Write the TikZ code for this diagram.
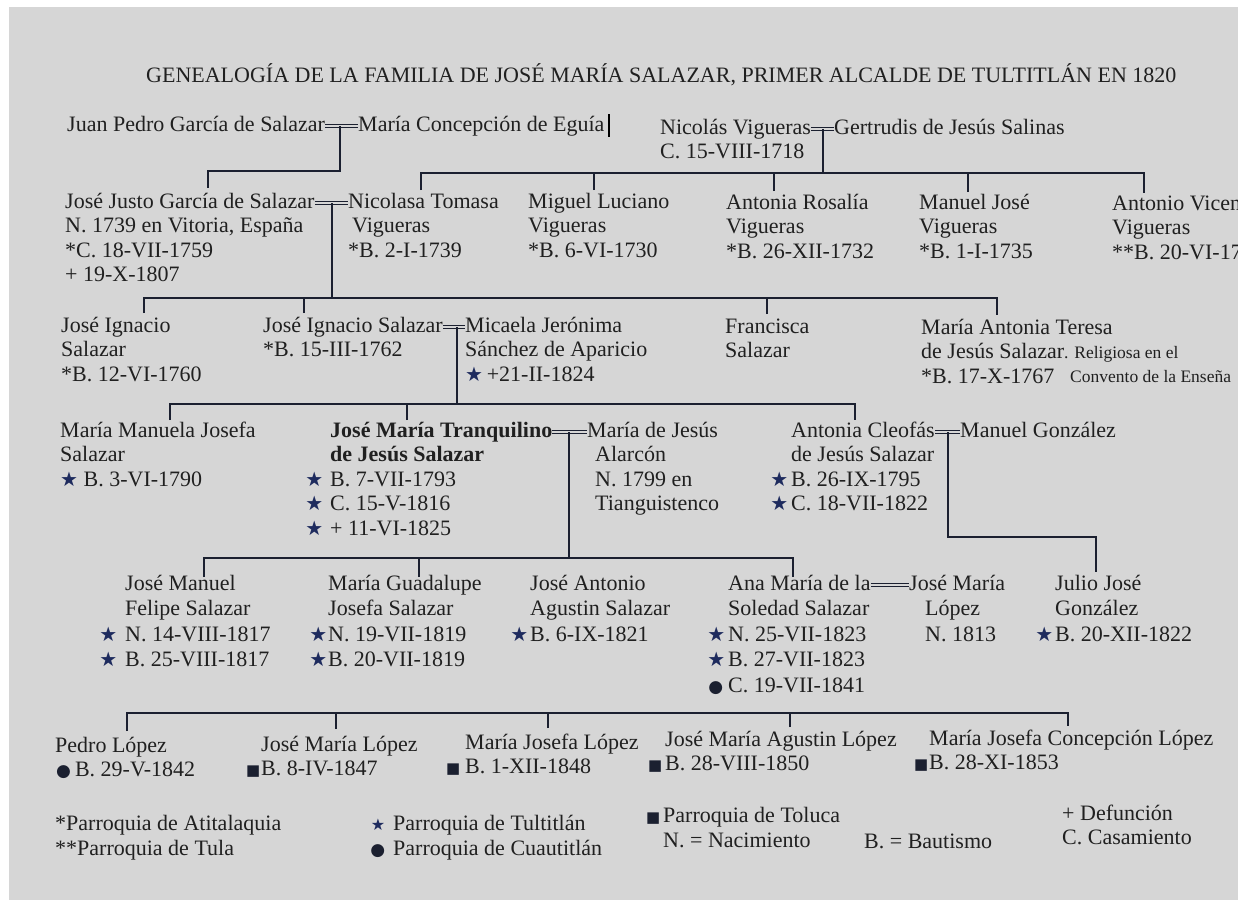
\documentclass[tikz,border=0pt]{standalone}
\usepackage{fontspec}
\usepackage{graphicx}
\setmainfont{Liberation Serif}
\newfontfamily\symf{DejaVu Sans}
\definecolor{bgc}{HTML}{D6D6D6}
\definecolor{textc}{HTML}{202020}
\definecolor{linec}{HTML}{1B2030}
\definecolor{starc}{HTML}{1E2B5E}
\newcommand\mlines[1]{\vtop{\halign{##\hfil\cr#1\crcr}}}
\newcommand\stR{{\fontsize{20}{20}\selectfont\symf\color{starc}★}}
\newcommand\stS{{\fontsize{16}{16}\selectfont\symf\color{starc}★}}
\newcommand\bul{{\fontsize{17}{17}\selectfont\symf\color{linec}●}}
\newcommand\sqr{{\fontsize{15}{15}\selectfont\symf\color{linec}■}}
\newcommand\hst[1]{\llap{\stR\hspace{#1}}}
\tikzset{
  txt/.style={anchor=base west, inner sep=0pt, text=textc, font=\fontsize{22}{24.5}\selectfont},
  txtw/.style={anchor=base west, inner sep=0pt, text=textc, font=\fontsize{22}{25.5}\selectfont},
  smalltxt/.style={anchor=base west, inner sep=0pt, text=textc, font=\fontsize{17.5}{20}\selectfont},
  conn/.style={draw=linec, line width=2.8pt},
  wed/.style={draw=linec, line width=1.2pt, double=bgc, double distance=2.4pt},
}
\begin{document}
\begin{tikzpicture}[x=1pt,y=-1pt]
\fill[bgc] (0,0) rectangle (1238,900);
\fill[white] (0,0) rectangle (1238,7);
\fill[white] (0,0) rectangle (9,900);
\useasboundingbox (0,0) rectangle (1238,900);

% title
\node[txt] (title) at (146,82) {GENEALOGÍA DE LA FAMILIA DE JOSÉ MARÍA SALAZAR, PRIMER ALCALDE DE TULTITLÁN EN 1820};

% row 1
\node[txt] (jp) at (67,131) {Juan Pedro García de Salazar};
\node[txt] (mc) at (358,131) {María Concepción de Eguía};
\draw[line width=1.6pt, black] (609,114) -- (609,137);
\node[txt] (nv) at (660,134) {\mlines{Nicolás Vigueras\cr C. 15-VIII-1718}};
\node[txt] (gs) at (834,134) {Gertrudis de Jesús Salinas};

% row 2
\node[txt] (jj) at (65,208) {\mlines{José Justo García de Salazar\cr N. 1739 en Vitoria, España\cr *C. 18-VII-1759\cr + 19-X-1807}};
\node[txt] (nt) at (348,208) {\mlines{Nicolasa Tomasa\cr \hspace{4pt}Vigueras\cr *B. 2-I-1739}};
\node[txt] (ml) at (528,208) {\mlines{Miguel Luciano\cr Vigueras\cr *B. 6-VI-1730}};
\node[txt] (ar) at (726,209) {\mlines{Antonia Rosalía\cr Vigueras\cr *B. 26-XII-1732}};
\node[txt] (mj) at (919,209) {\mlines{Manuel José\cr Vigueras\cr *B. 1-I-1735}};
\node[txt] (av) at (1112,210) {\mlines{Antonio Vicen\cr Vigueras\cr **B. 20-VI-17}};

% row 3
\node[txt] (ji1) at (61,332) {\mlines{José Ignacio\cr Salazar\cr *B. 12-VI-1760}};
\node[txt] (ji2) at (263,332) {\mlines{José Ignacio Salazar\cr *B. 15-III-1762}};
\node[txt] (mjs) at (465,332) {\mlines{Micaela Jerónima\cr Sánchez de Aparicio\cr \stR\,+21-II-1824}};
\node[txt] (fs) at (725,333) {\mlines{Francisca\cr Salazar}};
\node[txt] (mat) at (921,334) {\mlines{María Antonia Teresa\cr de Jesús Salazar\cr *B. 17-X-1767}};
\node[smalltxt] (rel) at (1064,358) {. Religiosa en el};
\node[smalltxt] (conv) at (1070,382) {Convento de la Enseña};

% row 4
\node[txt] (mmj) at (60,437) {\mlines{María Manuela Josefa\cr Salazar\cr \stR\ B. 3-VI-1790}};
\node[txt] (jmt) at (330,437) {\mlines{\textbf{José María Tranquilino}\cr \textbf{de Jesús Salazar}\cr \hst{7pt}B. 7-VII-1793\cr \hst{7pt}C. 15-V-1816\cr \hst{7pt}+ 11-VI-1825}};
\node[txt] (mja) at (587,437) {\mlines{María de Jesús\cr \hspace{8pt}Alarcón\cr \hspace{8pt}N. 1799 en\cr \hspace{8pt}Tianguistenco}};
\node[txt] (acs) at (791,437) {\mlines{Antonia Cleofás\cr de Jesús Salazar\cr \hst{3pt}B. 26-IX-1795\cr \hst{3pt}C. 18-VII-1822}};
\node[txt] (mg) at (960,437) {Manuel González};

% row 5
\node[txtw] (jmf) at (125,590) {\mlines{José Manuel\cr Felipe Salazar\cr \hst{8pt}N. 14-VIII-1817\cr \hst{8pt}B. 25-VIII-1817}};
\node[txtw] (mgj) at (328,590) {\mlines{María Guadalupe\cr Josefa Salazar\cr \hst{1pt}N. 19-VII-1819\cr \hst{1pt}B. 20-VII-1819}};
\node[txtw] (jaa) at (530,590) {\mlines{José Antonio\cr Agustin Salazar\cr \hst{2pt}B. 6-IX-1821}};
\node[txtw] (ams) at (728,590) {\mlines{Ana María de la\cr Soledad Salazar\cr \hst{3pt}N. 25-VII-1823\cr \hst{3pt}B. 27-VII-1823\cr \llap{\bul\hspace{5pt}}C. 19-VII-1841}};
\node[txtw] (jml) at (909,590) {\mlines{José María\cr \hspace{16pt}López\cr \hspace{16pt}N. 1813}};
\node[txtw] (jjg) at (1055,590) {\mlines{Julio José\cr González\cr \hst{2pt}B. 20-XII-1822}};

% row 6
\node[txt] (pl) at (55,752) {\mlines{Pedro López\cr \hspace{1pt}\bul\hspace{4pt}B. 29-V-1842}};
\node[txt] (jmlo) at (261,751) {\mlines{José María López\cr \llap{\sqr\hspace{1pt}}B. 8-IV-1847}};
\node[txt] (mjl) at (465,749) {\mlines{María Josefa López\cr \llap{\sqr\hspace{5pt}}B. 1-XII-1848}};
\node[txt] (jmal) at (665,746) {\mlines{José María Agustin López\cr \llap{\sqr\hspace{3pt}}B. 28-VIII-1850}};
\node[txt] (mjcl) at (929,745) {\mlines{María Josefa Concepción López\cr \llap{\sqr\hspace{1pt}}B. 28-XI-1853}};

% legend
\node[txtw] (lg1) at (55,830) {\mlines{*Parroquia de Atitalaquia\cr **Parroquia de Tula}};
\node[txtw] (lg2) at (393,830) {\mlines{\llap{\stS\hspace{8pt}}Parroquia de Tultitlán\cr \llap{\bul\hspace{8pt}}Parroquia de Cuautitlán}};
\node[txtw] (lg3) at (663,822) {\mlines{\llap{\sqr\hspace{3pt}}Parroquia de Toluca\cr N. = Nacimiento}};
\node[txt] (lg4) at (864,848) {B. = Bautismo};
\node[txt] (lg5) at (1062,820) {\mlines{+ Defunción\cr C. Casamiento}};

% marriages
\draw[wed] ([yshift=5pt]jp.base east) -- ([yshift=5pt]mc.base west);
\draw[wed] ([yshift=5pt]nv.base east) -- ([yshift=5pt]gs.base west);
\draw[wed] ([yshift=5pt]jj.base east) -- ([yshift=5pt]nt.base west);
\draw[wed] ([yshift=5pt]ji2.base east) -- ([yshift=5pt]mjs.base west);
\draw[wed] ([yshift=5pt]jmt.base east) -- ([yshift=5pt]mja.base west);
\draw[wed] ([yshift=5pt]acs.base east) -- ([yshift=5pt]mg.base west);
\draw[wed] ([yshift=5pt]ams.base east) -- ([yshift=5pt]jml.base west);

% marriage points and drop ends
\coordinate (w1) at (340,126);
\coordinate (c1) at (208,188);
\coordinate (w2) at (823,129);
\coordinate (b2) at (823,173);
\coordinate (c2a) at (421,190);
\coordinate (c2b) at (594,190);
\coordinate (c2c) at (774,191);
\coordinate (c2d) at (968,192);
\coordinate (c2e) at (1144,193);
\coordinate (w3) at (332,203);
\coordinate (b3) at (332,298);
\coordinate (c3a) at (144,313);
\coordinate (c3b) at (304,313);
\coordinate (c3c) at (767,314);
\coordinate (c3d) at (997,315);
\coordinate (w4) at (457,327);
\coordinate (b4) at (457,404);
\coordinate (c4a) at (170,420);
\coordinate (c4b) at (407,420);
\coordinate (c4c) at (855,420);
\coordinate (w5) at (569,432);
\coordinate (b5) at (569,558);
\coordinate (c5a) at (204,577);
\coordinate (c5b) at (419,577);
\coordinate (c5c) at (793,577);
\coordinate (w6) at (948,432);
\coordinate (c6) at (1096,572);
\coordinate (c7a) at (127,731);
\coordinate (c7b) at (336,729);
\coordinate (c7c) at (548,728);
\coordinate (c7d) at (790,727);
\coordinate (c7e) at (1068,726);

% connectors
\draw[conn] (w1) -- (340,171) -| (c1);
\draw[conn] (w2) -- (b2);
\draw[conn] (c2a) -- ++(0,-17) -| (c2e);
\draw[conn] (c2b) -- ++(0,-17);
\draw[conn] (c2c) -- ++(0,-18);
\draw[conn] (c2d) -- ++(0,-19);
\draw[conn] (w3) -- (b3);
\draw[conn] (c3a) -- ++(0,-15) -| (c3d);
\draw[conn] (c3b) -- ++(0,-15);
\draw[conn] (c3c) -- ++(0,-16);
\draw[conn] (w4) -- (b4);
\draw[conn] (c4a) -- ++(0,-16) -| (c4c);
\draw[conn] (c4b) -- ++(0,-16);
\draw[conn] (w5) -- (b5);
\draw[conn] (c5a) -- ++(0,-19) -| (c5c);
\draw[conn] (c5b) -- ++(0,-19);
\draw[conn] (w6) -- (948,537) -| (c6);
\draw[conn] (c7a) -- ++(0,-18) -| (c7e);
\draw[conn] (c7b) -- ++(0,-17);
\draw[conn] (c7c) -- ++(0,-16);
\draw[conn] (c7d) -- ++(0,-15);
\end{tikzpicture}
\end{document}
